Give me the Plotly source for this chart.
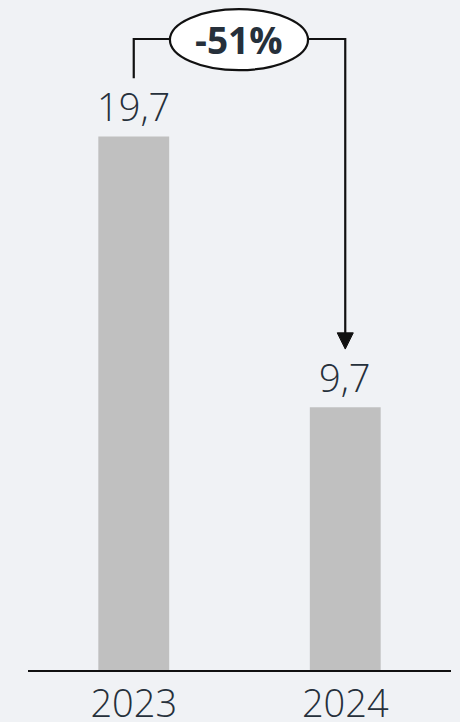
import plotly.graph_objects as go

years = ["2023", "2024"]
values = [19.7, 9.7]
value_labels = ["19,7", "9,7"]

x_pos = list(range(len(years)))
change_pct = round((values[1] / values[0] - 1) * 100)
change_label = f"{change_pct}%"

BG = "#f0f2f5"
BAR = "#c0c0c0"
TXT = "#26303b"
LINE = "#111111"
FONT = "Open Sans"

fig = go.Figure()
fig.add_trace(go.Bar(
    x=x_pos, y=values, width=0.335,
    marker=dict(color=BAR, line=dict(width=0)),
    hoverinfo="skip",
))

# value labels
for xi, v, lab in zip(x_pos, values, value_labels):
    fig.add_annotation(x=xi, y=v, text=lab, showarrow=False,
                       yanchor="bottom", yshift=2,
                       font=dict(family=FONT, size=38, color=TXT, weight=300))

# bracket connector
y_h = 23.3
y_start = values[0] + 2.15
y_tip = values[1] + 2.15
ell_x0, ell_x1 = 0.171, 0.824
ell_y0, ell_y1 = 22.15, 24.4
lw = 2.2
fig.add_shape(type="path",
              path=f"M {x_pos[0]},{y_start} L {x_pos[0]},{y_h} L {ell_x0+0.01},{y_h}",
              line=dict(color=LINE, width=lw))
fig.add_shape(type="path",
              path=f"M {ell_x1-0.01},{y_h} L {x_pos[1]},{y_h} L {x_pos[1]},{y_tip+0.5}",
              line=dict(color=LINE, width=lw))
# arrow head
hw = 0.038
fig.add_shape(type="path",
              path=f"M {x_pos[1]-hw},{y_tip+0.6} L {x_pos[1]+hw},{y_tip+0.6} L {x_pos[1]},{y_tip} Z",
              fillcolor=LINE, line=dict(color=LINE, width=1))
# ellipse
fig.add_shape(type="circle", x0=ell_x0, x1=ell_x1, y0=ell_y0, y1=ell_y1,
              fillcolor="white", line=dict(color=LINE, width=lw))
fig.add_annotation(x=(ell_x0 + ell_x1) / 2, y=(ell_y0 + ell_y1) / 2,
                   text=f"<b>{change_label}</b>", showarrow=False,
                   font=dict(family=FONT, size=37, color=TXT))

fig.update_layout(
    width=460, height=722,
    margin=dict(l=28, r=9, t=0, b=52, autoexpand=False),
    paper_bgcolor=BG, plot_bgcolor=BG,
    showlegend=False,
    xaxis=dict(range=[-0.5, 1.5], tickvals=x_pos, ticktext=years,
               showgrid=False, zeroline=False, showline=True,
               linecolor=LINE, linewidth=1.5, ticks="",
               automargin=False,
               tickfont=dict(family=FONT, size=38, color=TXT, weight=300),
               fixedrange=True),
    yaxis=dict(range=[0, 24.74], visible=False, fixedrange=True,
               automargin=False),
)

fig.write_html("out.html", config={"displayModeBar": False},
               post_script="document.body.style.margin='0';document.body.style.padding='0';document.body.style.background='#f0f2f5';")
